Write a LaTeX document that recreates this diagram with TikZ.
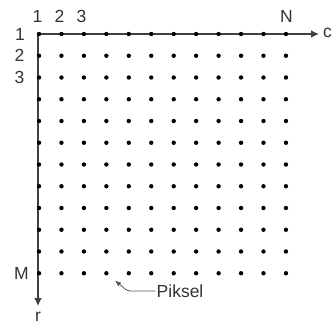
\documentclass[tikz,border=0pt]{standalone}
\usepackage{fontspec}
\setmainfont{Liberation Sans}
\usetikzlibrary{arrows,arrows.meta,positioning}

\begin{document}
\begin{tikzpicture}[x=1pt, y=-1pt, every node/.style={font=\fontsize{17.5}{20}\selectfont, text=black!80, inner sep=0pt}]
  \tikzset{pix/.style={circle, fill=black, minimum size=4.4pt},
           axis/.style={draw=black!75, line width=1.8pt, -{Latex[length=8pt,width=8pt]}},
           ptr/.style={draw=black!65, line width=0.8pt, rounded corners=3pt, -{Latex[length=6pt,width=5pt]}, shorten >=9pt}}
  \useasboundingbox (0,0) rectangle (332,324);
  \coordinate (O) at (38,34);
  \coordinate (cend) at (319,34);
  \coordinate (rend) at (38,306);
  \draw[axis] (O) -- (cend);
  \draw[axis] (O) -- (rend);
  % pixel grid
  \foreach \j in {1,...,12}
    \foreach \k in {1,...,12}
      \node (p-\k-\j) [pix] at ({39+(\k-1)*22.45},{34+(\j-1)*21.75}) {};
  % column numbers
  \node (c1) at (37.5,16) {1};
  \node (c2) at (59.5,16) {2};
  \node (c3) at (81.5,16) {3};
  \node (cN) at (286.5,16) {N};
  \node (c) [anchor=west] at (323,33) {c};
  % row numbers
  \node (r1) [anchor=east] at (25,34) {1};
  \node (r2) [anchor=east] at (24.5,55.75) {2};
  \node (r3) [anchor=east] at (24.5,77.5) {3};
  \node (rM) [anchor=east] at (29,273.25) {M};
  \node (r) at (38,317) {r};
  % pointer
  \node (pl) [anchor=west] at (156.5,291) {Piksel};
  \draw[ptr] (pl.west) ++(-1,0) -- ++(-28,0) -- (p-4-12);
\end{tikzpicture}
\end{document}
